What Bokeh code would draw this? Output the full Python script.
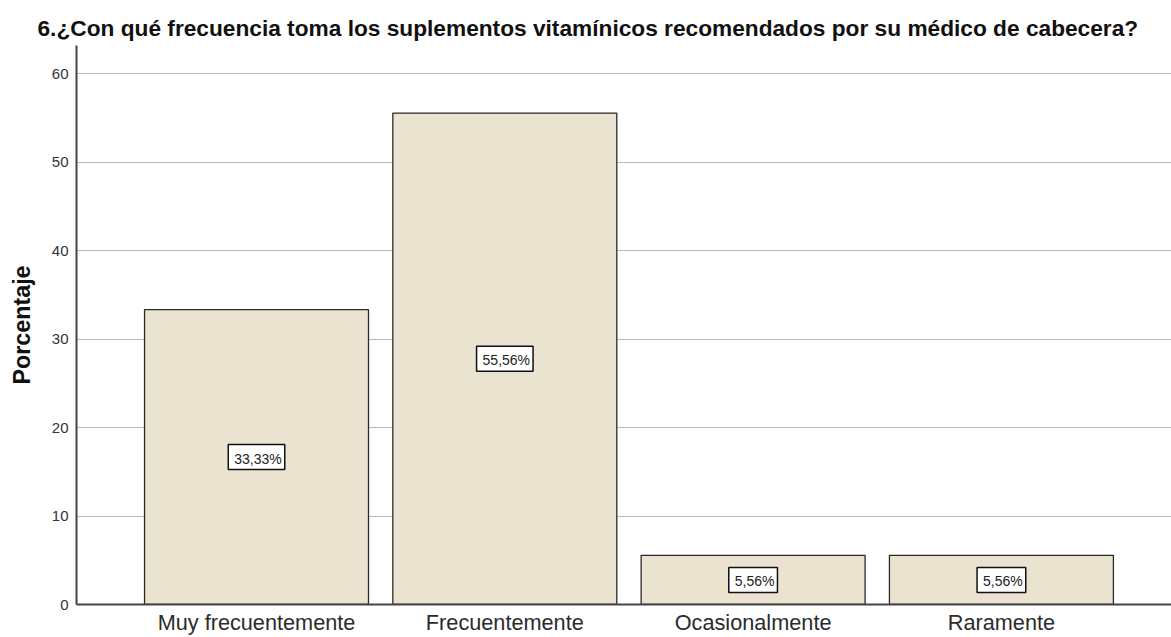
from bokeh.plotting import figure
from bokeh.models import FixedTicker, ColumnDataSource, Range1d
from bokeh.core.properties import value
from bokeh.embed import file_html
from bokeh.resources import INLINE

titulo = "6.¿Con qué frecuencia toma los suplementos vitamínicos recomendados por su médico de cabecera?"
categorias = ["Muy frecuentemente", "Frecuentemente", "Ocasionalmente", "Raramente"]
porcentajes = [33.33, 55.56, 5.56, 5.56]
etiquetas = ["33,33%", "55,56%", "5,56%", "5,56%"]
y_ticks = [0, 10, 20, 30, 40, 50, 60]

pos = list(range(1, len(categorias) + 1))
src = ColumnDataSource(dict(
    x=pos,
    top=porcentajes,
    mid=[v / 2 for v in porcentajes],
    lab=etiquetas,
))

FONT = "Liberation Sans"

p = figure(
    width=1171, height=637,
    output_backend="svg", toolbar_location=None,
    x_range=Range1d(0.275, 4.685), y_range=Range1d(0, 63.2),
    min_border_left=76, min_border_right=0, min_border_top=45, min_border_bottom=33,
    title=titulo,
)
p.outline_line_color = None
p.background_fill_color = "white"
p.border_fill_color = "white"

p.title.text_font = FONT
p.title.text_font_size = "22.7px"
p.title.text_font_style = "bold"
p.title.text_color = "#111111"
p.title.align = "left"
p.title.offset = -39
p.title.standoff = 9

p.vbar(x="x", top="top", bottom=0, width=0.902, source=src,
       fill_color="#EAE3D0", line_color="#2a2a2a", line_width=1.3)

p.text(x="x", y="mid", text="lab", source=src,
       text_align="center", text_baseline="middle",
       text_font=value(FONT), text_font_size="14px", text_color="#222222",
       background_fill_color="white", border_line_color="#111111",
       border_line_width=1.5, padding=(6, 3, 6, 3))

p.xgrid.visible = False
p.ygrid.grid_line_color = "#B8B8B8"
p.ygrid.grid_line_width = 1.2

p.yaxis.ticker = FixedTicker(ticks=y_ticks)
p.yaxis.axis_label = "Porcentaje"
p.yaxis.axis_label_text_font = FONT
p.yaxis.axis_label_text_font_size = "23.3px"
p.yaxis.axis_label_text_font_style = "bold"
p.yaxis.axis_label_text_color = "#111111"
p.yaxis.axis_label_standoff = 14
p.yaxis.major_label_text_font = FONT
p.yaxis.major_label_text_font_size = "15px"
p.yaxis.major_label_text_color = "#333333"
p.yaxis.major_label_standoff = 8
p.yaxis.major_tick_out = 0
p.yaxis.major_tick_in = 0
p.yaxis.minor_tick_out = 0
p.yaxis.minor_tick_in = 0
p.yaxis.axis_line_color = "#444444"
p.yaxis.axis_line_width = 2

p.xaxis.ticker = FixedTicker(ticks=pos)
p.xaxis.major_label_overrides = {i: c for i, c in zip(pos, categorias)}
p.xaxis.major_label_text_font = FONT
p.xaxis.major_label_text_font_size = "21.7px"
p.xaxis.major_label_text_color = "#2b2b2b"
p.xaxis.major_label_standoff = 5
p.xaxis.major_tick_out = 0
p.xaxis.major_tick_in = 0
p.xaxis.minor_tick_out = 0
p.xaxis.minor_tick_in = 0
p.xaxis.axis_line_color = "#444444"
p.xaxis.axis_line_width = 2

open("out.html", "w").write(file_html(p, INLINE))
